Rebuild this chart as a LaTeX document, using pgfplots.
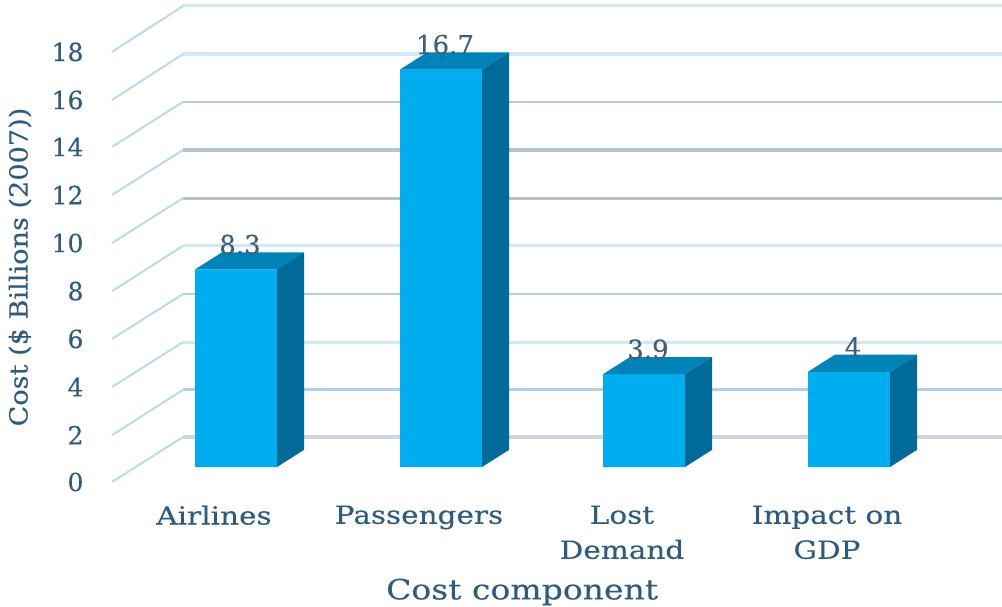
\documentclass[border=0pt]{standalone}
\usepackage{pgfplots}
\pgfplotsset{compat=1.18}
\usepackage{fontspec}
\setmainfont[FakeBold=0.25]{DejaVu Serif}
\newfontfamily\widecat[FakeStretch=1.18,FakeBold=0.25]{DejaVu Serif}
\newfontfamily\widey[FakeStretch=1.085,FakeBold=0.25]{DejaVu Serif}
\definecolor{txt}{HTML}{2F5C7C}
\definecolor{val}{HTML}{3F5F78}
\definecolor{front}{HTML}{00AEEF}
\definecolor{topf}{HTML}{0083B8}
\definecolor{sidef}{HTML}{006A99}
\definecolor{wallA}{HTML}{D3E8F6}
\definecolor{wallB}{HTML}{B7C8D6}
\definecolor{wallC}{HTML}{B8C2CC}
\definecolor{wallD}{HTML}{B4D0E6}
\definecolor{wallE}{HTML}{CCD5DD}
\definecolor{diag}{HTML}{BBDAF1}
\begin{document}
\begin{tikzpicture}[x=1pt,y=1pt]
\useasboundingbox (0,0) rectangle (1002,607);
\begin{axis}[
  at={(88pt,117pt)}, anchor=south west,
  scale only axis, width=914pt, height=490pt,
  xmin=88, xmax=1002, ymin=-0.966, ymax=19.622,
  axis line style={draw=none},
  tick style={draw=none},
  font=\fontsize{25}{35}\selectfont,
  ytick={-0.63,1.34,3.36,5.38,7.39,9.41,11.43,13.45,15.42,17.44},
  yticklabels={0,2,4,6,8,10,12,14,16,18},
  xtick={236,441,644,849},
  xticklabels={Airlines,Passengers,{Lost\\Demand},{Impact on\\GDP}},
  x tick label style={align=center, xshift=-22pt, text=txt, anchor=north, yshift=-12pt, font=\widecat\fontsize{25}{35}\selectfont},
  y tick label style={text=txt, xshift=-1pt},
  xlabel={Cost component},
  ylabel={Cost (\$ Billions (2007))},
  every axis x label/.append style={at={(axis description cs:0.475,-0.208)}, anchor=center, text=txt, font=\widecat\fontsize{28}{35}\selectfont},
  every axis y label/.append style={at={(axis description cs:-0.0744,0.455)}, anchor=center, text=txt, font=\widey\fontsize{25}{35}\selectfont},
]
% side wall and back wall rules, from the lowest to the highest tick
\addplot[diag, line width=2pt, forget plot] coordinates {(112,-0.63)(183,1.26)};
\addplot[wallE, line width=3.5pt, forget plot] coordinates {(183,1.26)(1002,1.26)};
\addplot[diag, line width=2pt, forget plot] coordinates {(112,1.34)(183,3.24)};
\addplot[wallD, line width=3pt, forget plot] coordinates {(183,3.24)(1002,3.24)};
\addplot[diag, line width=2pt, forget plot] coordinates {(112,3.36)(183,5.25)};
\addplot[wallA, line width=3pt, forget plot] coordinates {(183,5.25)(1002,5.25)};
\addplot[diag, line width=2pt, forget plot] coordinates {(112,5.38)(183,7.27)};
\addplot[wallD, line width=2.5pt, forget plot] coordinates {(183,7.27)(1002,7.27)};
\addplot[diag, line width=2pt, forget plot] coordinates {(112,7.39)(183,9.29)};
\addplot[wallA, line width=3pt, forget plot] coordinates {(183,9.29)(1002,9.29)};
\addplot[diag, line width=2pt, forget plot] coordinates {(112,9.41)(183,11.30)};
\addplot[wallC, line width=3pt, forget plot] coordinates {(183,11.30)(1002,11.30)};
\addplot[diag, line width=2pt, forget plot] coordinates {(112,11.43)(183,13.32)};
\addplot[wallC, line width=4pt, forget plot] coordinates {(183,13.32)(1002,13.32)};
\addplot[diag, line width=2pt, forget plot] coordinates {(112,13.45)(183,15.34)};
\addplot[wallB, line width=2.5pt, forget plot] coordinates {(183,15.34)(1002,15.34)};
\addplot[diag, line width=2pt, forget plot] coordinates {(112,15.42)(183,17.35)};
\addplot[wallA, line width=3.5pt, forget plot] coordinates {(183,17.35)(1002,17.35)};
\addplot[diag, line width=2pt, forget plot] coordinates {(112,17.44)(183,19.37)};
\addplot[wallA, line width=3pt, forget plot] coordinates {(183,19.37)(1002,19.37)};
% front faces of the bars, with their value labels
\addplot[ybar, bar width=82pt, fill=front, draw=none,
  nodes near coords,
  every node near coord/.append style={anchor=center, yshift=25pt, xshift=4pt, text=val,
    font=\fontsize{26}{30}\selectfont, /pgf/number format/assume math mode=true}]
  coordinates {(236,8.3)(441,16.7)(644,3.9)(849,4)};
% top faces: (left, value) of the front edge and the receding edge
\addplot[fill=topf, draw=none] coordinates {(195,8.3)(277,8.3)(304,9.02)(222,9.02)} -- cycle;
\addplot[fill=topf, draw=none] coordinates {(400,16.7)(482,16.7)(509,17.42)(427,17.42)} -- cycle;
\addplot[fill=topf, draw=none] coordinates {(603,3.9)(685,3.9)(712,4.62)(630,4.62)} -- cycle;
\addplot[fill=topf, draw=none] coordinates {(808,4)(890,4)(917,4.72)(835,4.72)} -- cycle;
% side faces
\addplot[fill=sidef, draw=none] coordinates {(277,0)(304,0.72)(304,9.02)(277,8.3)} -- cycle;
\addplot[fill=sidef, draw=none] coordinates {(482,0)(509,0.72)(509,17.42)(482,16.7)} -- cycle;
\addplot[fill=sidef, draw=none] coordinates {(685,0)(712,0.72)(712,4.62)(685,3.9)} -- cycle;
\addplot[fill=sidef, draw=none] coordinates {(890,0)(917,0.72)(917,4.72)(890,4)} -- cycle;
\end{axis}
\end{tikzpicture}
\end{document}
